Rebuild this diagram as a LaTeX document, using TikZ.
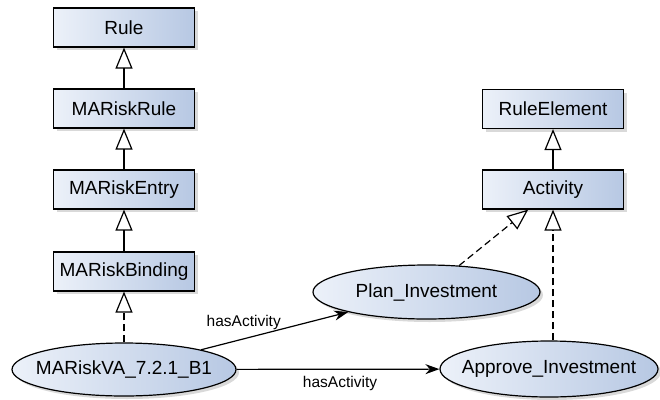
\documentclass[tikz,border=0pt]{standalone}
\usepackage{fontspec}
\setmainfont{Liberation Sans}
\usetikzlibrary{shapes.geometric, shadows, arrows.meta}

\definecolor{boxleft}{RGB}{236,241,249}
\definecolor{boxright}{RGB}{183,200,227}

\tikzset{
    umlfill/.style={left color=boxleft, right color=boxright, draw=black, line width=1.2pt,
        drop shadow={shadow xshift=3pt, shadow yshift=-3pt, opacity=0.3}},
    cls/.style={umlfill, rectangle, minimum width=141pt, minimum height=39pt,
        font=\fontsize{19}{23}\selectfont},
    inst/.style={umlfill, ellipse, inner xsep=-14pt, inner ysep=0pt, minimum height=54pt,
        font=\fontsize{19}{23}\selectfont},
    isa/.style={-{Triangle[open, length=21pt, width=17pt]}, line width=1.2pt},
    rel/.style={-{Stealth[length=14pt, width=10pt]}, line width=1.2pt},
    dashline/.style={dash pattern=on 7pt off 4pt},
    lbl/.style={inner sep=2pt, font=\fontsize{15.5}{18}\selectfont},
}

\begin{document}
\begin{tikzpicture}[x=1pt, y=-1pt]
    \useasboundingbox (0,0) rectangle (660,399);
    % class hierarchy
    \node[cls] (rule) at (124,27.5) {Rule};
    \node[cls] (marule) at (124,108.5) {MARiskRule};
    \node[cls] (maentry) at (124,189.5) {MARiskEntry};
    \node[cls] (mabind) at (124,271.5) {MARiskBinding};
    \node[cls] (ruleel) at (553,109) {RuleElement};
    \node[cls] (activity) at (553,189.5) {Activity};
    % instances
    \node[inst, minimum width=224pt, minimum height=53pt] (mava) at (124,369.5) {MARiskVA\_7.2.1\_B1};
    \node[inst, minimum width=227pt] (plan) at (426.5,292) {Plan\_Investment};
    \node[inst, minimum width=218pt, minimum height=56pt] (approve) at (549,369) {Approve\_Investment};

    \foreach \sub/\super in {marule/rule, maentry/marule, mabind/maentry, activity/ruleel} {
        \draw[isa] (\sub) -- (\super);
    }
    \draw[isa, dashline] (mava) -- (mabind);
    \draw[isa, dashline] (plan) -- (activity);
    \draw[isa, dashline] (activity |- approve.north) -- (activity);

    \draw[rel] (mava) -- node[lbl, pos=0.29, above=7pt] (lbla) {hasActivity} (plan);
    \draw[rel] (mava) -- node[lbl, pos=0.51, below=4pt] (lblb) {hasActivity} (approve);
\end{tikzpicture}
\end{document}
